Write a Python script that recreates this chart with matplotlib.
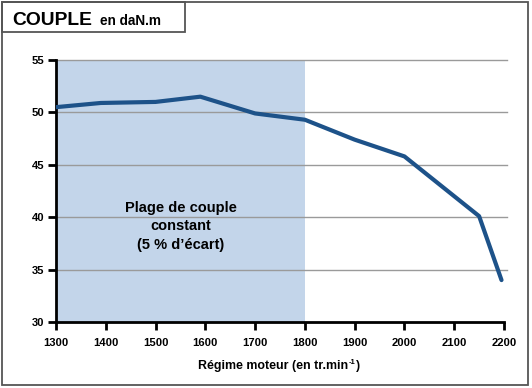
import matplotlib.pyplot as plt
from matplotlib.patches import Rectangle

# Torque curve
rpm = [1300, 1390, 1500, 1590, 1700, 1800, 1900, 2000, 2100, 2150, 2195]
couple = [50.5, 50.9, 51.0, 51.5, 49.9, 49.3, 47.4, 45.8, 42.0, 40.1, 34.0]

plage = (1300, 1800)
x_ticks = [1300, 1400, 1500, 1600, 1700, 1800, 1900, 2000, 2100, 2200]
y_ticks = [30, 35, 40, 45, 50, 55]

FONT = 'Liberation Sans'
plt.rcParams['font.family'] = FONT

W, H = 532, 388
fig = plt.figure(figsize=(W / 100, H / 100), dpi=100)

# axes placed in pixel terms: left 56, right 504, top 60, bottom 322
ax = fig.add_axes([56 / W, 1 - 322 / H, (504 - 56) / W, (322 - 60) / H])

ax.axvspan(plage[0], plage[1], color='#c3d5ea', lw=0, zorder=0)
for y in y_ticks[1:]:
    ax.axhline(y, color='#9a9a9a', lw=1, xmax=1.007, clip_on=False, zorder=1)
ax.plot(rpm, couple, color='#1d5289', lw=3.0, solid_capstyle='round',
        solid_joinstyle='round', zorder=3)

ax.set_xlim(1300, 2200)
ax.set_ylim(30, 55)
ax.set_xticks(x_ticks)
ax.set_yticks(y_ticks)
ax.tick_params(direction='out', length=6, width=2, labelsize=8.1)
ax.tick_params(axis='x', pad=5.5)
ax.tick_params(axis='y', pad=2.5)
for lab in ax.get_xticklabels() + ax.get_yticklabels():
    lab.set_fontweight('bold')
    lab.set_family(FONT)
for s in ['top', 'right']:
    ax.spines[s].set_visible(False)
for s in ['left', 'bottom']:
    ax.spines[s].set_linewidth(2)

ax.text(1550, 39.15, 'Plage de couple\nconstant\n(5 % d\u2019écart)', ha='center',
        va='center', fontsize=10.5, fontweight='bold', family=FONT,
        linespacing=1.4, zorder=4)

xl = fig.text(198 / W, 1 - 369 / H, 'Régime moteur (en tr.min', ha='left',
              va='baseline', fontsize=8.9, fontweight='bold', family=FONT)
fig.canvas.draw()
bb = xl.get_window_extent()
fig.text(bb.x1 / W + 0.5 / W, 1 - 364.5 / H, '-1', ha='left', va='baseline',
         fontsize=5.5, fontweight='bold', family=FONT)
fig.text(bb.x1 / W + 8.0 / W, 1 - 369 / H, ')', ha='left', va='baseline',
         fontsize=8.9, fontweight='bold', family=FONT)

# outer frame and title box
fig.patches.append(Rectangle((2 / W, 1 - 385 / H), 526 / W, 383 / H,
                             transform=fig.transFigure, fill=False,
                             ec='#555555', lw=1.3))
fig.patches.append(Rectangle((2 / W, 1 - 32 / H), 183 / W, 30 / H,
                             transform=fig.transFigure, fill=False,
                             ec='#555555', lw=1.3))
fig.text(12 / W, 1 - 25 / H, 'COUPLE', ha='left', va='baseline', fontsize=13.9,
         fontweight='bold', family=FONT)
fig.text(99.5 / W, 1 - 25 / H, 'en daN.m', ha='left', va='baseline', fontsize=9.8,
         fontweight='bold', family=FONT)

fig.savefig('out.png', dpi=100)
